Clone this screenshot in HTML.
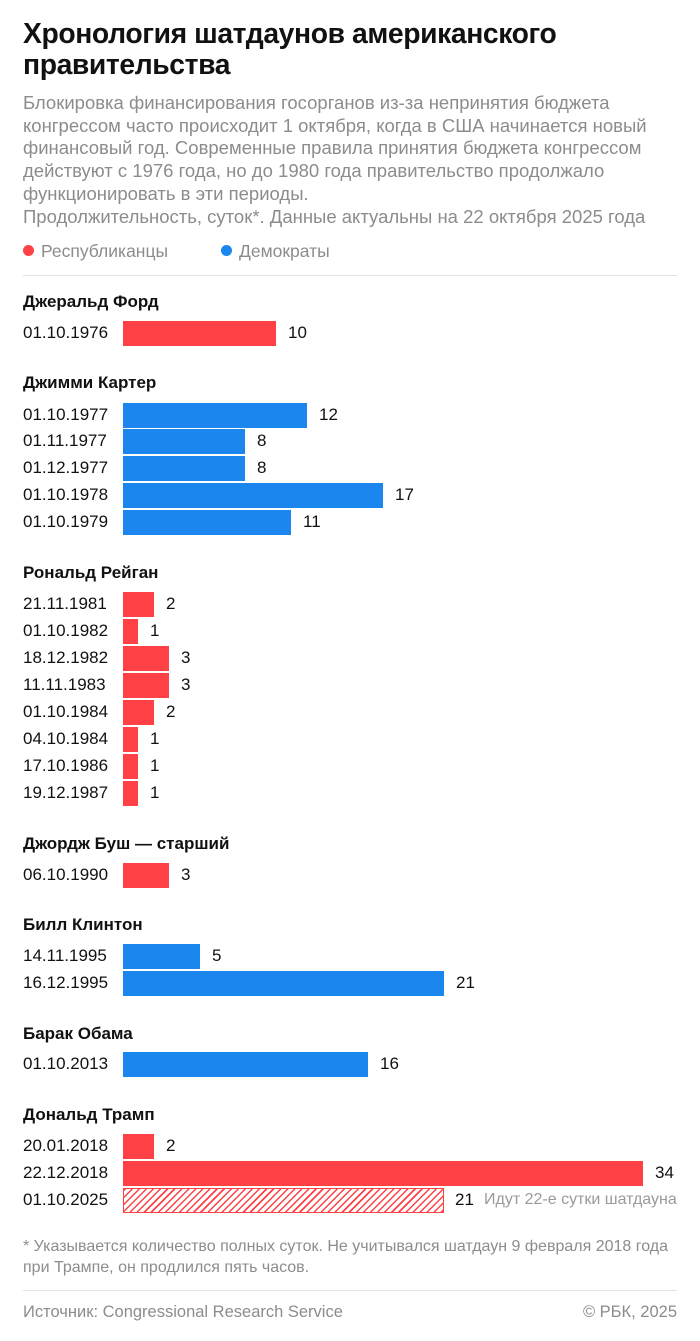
<!DOCTYPE html>
<html><head><meta charset="utf-8"><style>
*{margin:0;padding:0;box-sizing:border-box}
body{width:700px;height:1341px;background:#fff;font-family:"Liberation Sans",sans-serif;position:relative;overflow:hidden;color:#111}
.a{position:absolute;white-space:nowrap}
h1{position:absolute;left:23px;top:18px;font-size:28.3px;line-height:31px;font-weight:bold;letter-spacing:-0.4px;white-space:nowrap}
.sub{position:absolute;left:23px;top:92px;font-size:18.5px;line-height:22.7px;color:#8c8c8c;white-space:nowrap}
.h{font-size:17px;font-weight:bold}
.d{font-size:17px;left:23px}
.b{position:absolute;left:123px;height:25px}
.r{background:#ff4145}.u{background:#1a86ee}
.v{font-size:17px}
.dot{display:inline-block;width:11px;height:11px;border-radius:50%;vertical-align:middle;margin-right:7px;position:relative;top:-2px}
.line{position:absolute;left:23px;width:654px;height:1px;background:#e2e2e2}
</style></head><body>
<h1>Хронология шатдаунов американского<br>правительства</h1>
<div class="sub">Блокировка финансирования госорганов из-за непринятия бюджета<br>конгрессом часто происходит 1 октября, когда в США начинается новый<br>финансовый год. Современные правила принятия бюджета конгрессом<br>действуют с 1976 года, но до 1980 года правительство продолжало<br>функционировать в эти периоды.<br>Продолжительность, суток*. Данные актуальны на 22 октября 2025 года</div>
<div class="a" style="left:23px;top:241px;font-size:17.5px;color:#8c8c8c"><span class="dot" style="background:#ff4145"></span>Республиканцы</div>
<div class="a" style="left:221px;top:241px;font-size:17.5px;color:#8c8c8c"><span class="dot" style="background:#1a86ee"></span>Демократы</div>
<div class="line" style="top:275px"></div>
<div id="c"></div>
<div class="a" style="left:23px;top:1236px;font-size:16px;line-height:21px;color:#8c8c8c">* Указывается количество полных суток. Не учитывался шатдаун 9 февраля 2018 года<br>при Трампе, он продлился пять часов.</div>
<div class="line" style="top:1290px"></div>
<div class="a" style="left:23px;top:1303px;font-size:16.5px;color:#8c8c8c">Источник: Congressional Research Service</div>
<div class="a" style="right:23px;top:1303px;font-size:16.5px;color:#8c8c8c">© РБК, 2025</div>
<script>
var s=15.3,h='';
var H=[["Джеральд Форд",302],["Джимми Картер",383],["Рональд Рейган",573],["Джордж Буш — старший",844],["Билл Клинтон",925],["Барак Обама",1034],["Дональд Трамп",1115]];
H.forEach(function(x){h+='<div class="a h" style="left:23px;top:'+(x[1]-10)+'px">'+x[0]+'</div>'});
var R=[["01.10.1976",10,333,"r"],["01.10.1977",12,415,"u"],["01.11.1977",8,441,"u"],["01.12.1977",8,468,"u"],["01.10.1978",17,495,"u"],["01.10.1979",11,522,"u"],
["21.11.1981",2,604,"r"],["01.10.1982",1,631,"r"],["18.12.1982",3,658,"r"],["11.11.1983",3,685,"r"],["01.10.1984",2,712,"r"],["04.10.1984",1,739,"r"],["17.10.1986",1,766,"r"],["19.12.1987",1,793,"r"],
["06.10.1990",3,875,"r"],["14.11.1995",5,956,"u"],["16.12.1995",21,983,"u"],["01.10.2013",16,1064,"u"],["20.01.2018",2,1146,"r"],["22.12.2018",34,1173,"r"]];
R.forEach(function(x){var w=Math.round(x[1]*s);
h+='<div class="a d" style="top:'+(x[2]-10)+'px">'+x[0]+'</div>';
h+='<div class="b '+x[3]+'" style="top:'+(x[2]-12)+'px;width:'+w+'px"></div>';
h+='<div class="a v" style="left:'+(123+w+12)+'px;top:'+(x[2]-10)+'px">'+x[1]+'</div>';});
h+='<div class="a d" style="top:1190px">01.10.2025</div>';
h+='<div class="b" style="top:1188px;width:321px;border:1.5px solid #ff4145;background:repeating-linear-gradient(135deg,#ff4145 0 1.5px,#fff 1.5px 5px)"></div>';
h+='<div class="a v" style="left:455px;top:1190px">21</div>';
h+='<div class="a" style="left:484px;top:1191px;font-size:16px;color:#9a9a9a">Идут 22-е сутки шатдауна</div>';
document.getElementById('c').innerHTML=h;
</script>
</body></html>
